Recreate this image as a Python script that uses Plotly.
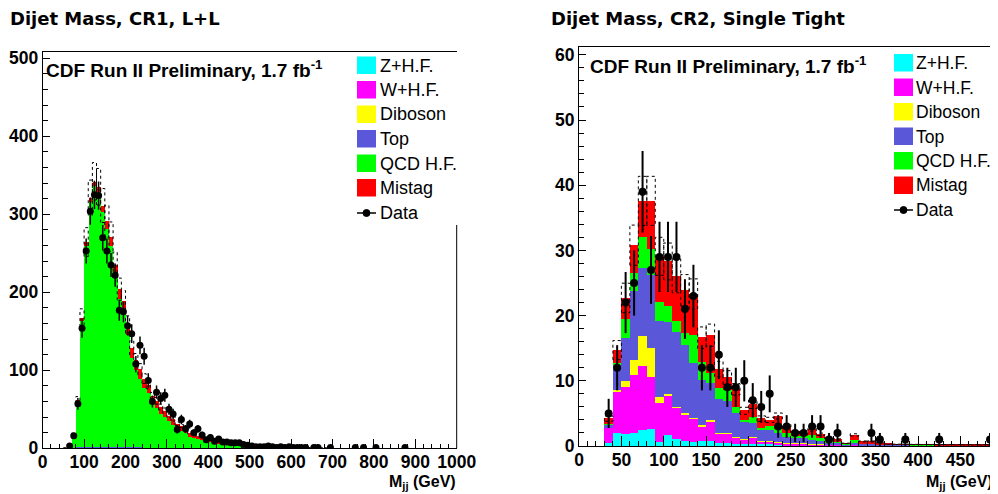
import numpy as np
import plotly.graph_objects as go

# page (screenshot) is 998x494; the default <body> margin of 8px offsets the figure
PAGE_OFF = 8
W_PX, H_PX = 998 - PAGE_OFF, 494 - PAGE_OFF
def fx(p): return (p - PAGE_OFF) / W_PX
def fy(p): return 1 - (p - PAGE_OFF) / H_PX

# ------------------------------------------------------------------ data
# Left panel: CR1, L+L   (10 GeV bins, centres 55 ... 695)
left_centers = list(range(55, 700, 10))
left_qcd = [0.5, 2.6, 17, 59, 162, 258, 314, 334, 327, 301,
            279, 258, 221, 190, 174, 144, 114, 99, 88, 76,
            70, 56, 51, 44, 39.5, 34.5, 30, 25, 22, 20,
            15, 14, 12, 11, 10.5, 8.5, 7, 6.5, 5.5, 4.8,
            4.1, 3.8, 3.4, 2.6, 2.3, 2.0, 1.8, 1.6, 1.4, 1.3,
            1.2, 1.0, 0.9, 0.8, 0.8, 0.7, 0.6, 0.6, 0.5, 0.5,
            0.4, 0.4, 0.3, 0.3, 0.3]
left_mistag = [0, 0.2, 0.5, 1.5, 3, 4, 5, 6, 6, 8,
               10, 11, 12, 12, 13, 13, 13, 13, 12, 12,
               11, 10, 9, 8, 8, 7, 7, 6, 6, 5,
               5, 4, 4, 3.5, 3, 3, 2.5, 2, 2, 1.8,
               1.5, 1.3, 1.2, 1.0, 0.9, 0.8, 0.7, 0.6, 0.6, 0.5,
               0.5, 0.4, 0.4, 0.3, 0.3, 0.3, 0.2, 0.2, 0.2, 0.2,
               0.1, 0.1, 0.1, 0.1, 0.1]
# small components, first 30 bins (55 ... 345)
left_top = [0, 0.1, 0.3, 0.8, 1.2, 1.5, 1.5, 1.5, 1.5, 1.5,
            1.5, 1.5, 1.5, 1.4, 1.4, 1.3, 1.3, 1.2, 1.1, 1.0,
            0.9, 0.8, 0.8, 0.7, 0.6, 0.6, 0.5, 0.5, 0.4, 0.4]
left_w = [0, 0.1, 0.2, 0.3, 0.4, 0.4, 0.4, 0.4, 0.4, 0.4,
          0.3, 0.3, 0.3, 0.3, 0.3, 0.2, 0.2, 0.2, 0.2, 0.2,
          0.1, 0.1, 0.1, 0.1, 0.1, 0.1, 0.1, 0.1, 0.1, 0.1]
left_z = [0, 0.1, 0.2, 0.3, 0.4, 0.4, 0.4, 0.4, 0.3, 0.3,
          0.3, 0.3, 0.2, 0.2, 0.2, 0.2, 0.2, 0.1, 0.1, 0.1,
          0.1, 0.1, 0.1, 0.1, 0.1, 0, 0, 0, 0, 0]
left_db = [0, 0, 0, 0.05, 0.1, 0.1, 0.1, 0.1, 0.1, 0.1,
           0.1, 0.1, 0.1, 0.1, 0.1, 0.05, 0.05, 0.05, 0.05, 0.05,
           0, 0, 0, 0, 0, 0, 0, 0, 0, 0]
left_data_x = [65, 75, 85, 95, 105, 115, 125, 135, 145, 155,
               165, 175, 185, 195, 205, 215, 225, 235, 245, 255,
               265, 275, 285, 295, 305, 315, 325, 335, 345, 355,
               365, 375, 385, 395, 405, 415, 425, 435, 445, 455,
               465, 475, 485, 495, 505, 515, 525, 535, 545, 555,
               565, 575, 585, 595, 605, 615, 625, 635, 655, 665,
               695, 755, 775, 805, 875]
left_data_y = [3, 16, 57, 154, 253, 304, 325, 324, 270, 253,
               235, 222, 177, 175, 157, 147, 108, 132, 118, 87,
               60, 72, 64, 68, 50, 44, 24, 37, 25, 31,
               20, 25, 17, 11, 14, 9, 12, 8, 8, 7,
               7, 7, 5, 4, 3, 2, 2, 2, 3, 2,
               1, 2, 1, 2, 1, 1, 1, 1, 1, 1,
               1, 1, 1, 1, 1]
left_band_frac = 0.07

# Right panel: CR2, Single Tight (10 GeV bins, centres 35 ... 485)
right_centers = list(range(35, 490, 10))
right_z = [0.4, 2.0, 1.8, 2.0, 2.4, 2.5, 0.6, 1.7, 1.0, 0.7,
           0.5, 0.7, 0.7, 0.4, 0.4, 0.3, 0.3, 0.3, 0.2, 0.2,
           0.1, 0.1, 0.1, 0.1, 0.05, 0.05, 0.05, 0.05, 0, 0.05,
           0, 0, 0, 0, 0, 0, 0, 0, 0, 0,
           0, 0, 0, 0, 0, 0]
right_w = [2.3, 6.3, 7.2, 8.9, 9.8, 8.1, 5.9, 6.0, 4.8, 4.1,
           3.6, 2.3, 3.0, 1.5, 1.4, 1.0, 0.7, 1.0, 0.5, 0.5,
           0.4, 0.3, 0.2, 0.2, 0.15, 0.1, 0.1, 0.1, 0.05, 0.1,
           0.05, 0.05, 0.05, 0.03, 0.03, 0.03, 0.02, 0.02, 0.02, 0.02,
           0.02, 0.02, 0.01, 0.01, 0.01, 0.01]
right_db = [0, 0.2, 0.9, 2.3, 4.6, 4.4, 1.0, 0.2, 0.2, 0.2,
            0.2, 0.2, 0.3, 0.1, 0.1, 0.1, 0.05, 0.05, 0.05, 0.05,
            0.05, 0.05, 0.05, 0.05, 0.05, 0.05, 0, 0, 0, 0,
            0, 0, 0, 0, 0, 0, 0, 0, 0, 0,
            0, 0, 0, 0, 0, 0]
right_top = [0.5, 4.0, 6.6, 10.5, 10.4, 11.2, 11.6, 11.0, 11.4, 10.5,
             8.4, 6.9, 5.6, 5.1, 4.9, 3.6, 2.65, 2.15, 1.75, 1.65,
             1.35, 0.95, 0.85, 0.85, 0.65, 0.5, 0.4, 0.35, 0.2, 0.3,
             0.25, 0.25, 0.15, 0.1, 0.1, 0.1, 0.08, 0.08, 0.08, 0.06,
             0.06, 0.05, 0.05, 0.05, 0.04, 0.04]
right_qcd = [0.2, 0.2, 3.0, 2.8, 4.8, 3.9, 3.0, 2.5, 1.7, 1.8,
             4.3, 2.8, 1.6, 1.7, 1.7, 1.0, 0.3, 0.9, 0.2, 0.6,
             0.6, 0.5, 0.3, 0.3, 0.8, 0.5, 0.15, 0.1, 0.05, 0.4,
             0.1, 0.1, 0.05, 0.03, 0.03, 0.03, 0.03, 0.02, 0.02, 0.02,
             0.02, 0.02, 0.02, 0.02, 0.02, 0.02]
right_mistag = [0.8, 2.0, 3.2, 4.3, 5.6, 7.5, 7.0, 6.9, 7.0, 6.6,
                6.3, 3.7, 5.8, 3.0, 2.0, 2.7, 1.4, 2.0, 1.5, 1.0,
                2.1, 1.1, 0.7, 0.5, 0.8, 0.6, 0.5, 0.4, 0.1, 0.85,
                0.3, 0.3, 0.2, 0.12, 0.1, 0.1, 0.1, 0.1, 0.1, 0.1,
                0.1, 0.1, 0.1, 0.1, 0.1, 0.1]
right_data = [5, 12, 22, 25, 39, 27, 29, 29, 29, 21,
              23, 12, 12, 14, 9, 9, 10, 7, 6, 8,
              3, 3, 2, 2, 3, 3, 1, 2, 0, 0,
              0, 2, 1, 0, 0, 1, 0, 0, 0, 1,
              0, 0, 0, 0, 0, 1]
right_band_frac = 0.10

BIN_W = 10
labels = ["Z+H.F.", "W+H.F.", "Diboson", "Top", "QCD H.F.", "Mistag"]
colors = ["#00FFFF", "#FF00FF", "#FFFF00", "#5A57D8", "#00FF00", "#FF0000"]

FONT = "Liberation Sans, Arial, Helvetica, sans-serif"

fig = go.Figure()

def add_stack(xa, ya, comps):
    totals = {}
    for (xs, ys), col in zip(comps, colors):
        fig.add_trace(go.Bar(x=xs, y=ys, width=BIN_W, marker=dict(color=col, line=dict(width=0)),
                             xaxis=xa, yaxis=ya, showlegend=False, hoverinfo="skip"))
        for x, y in zip(xs, ys):
            totals[x] = totals.get(x, 0) + y
    return totals

def add_band(xa, ya, totals, frac):
    bx, by = [], []
    for x in sorted(totals):
        t = totals[x]
        if t <= 0.15:
            continue
        lo, hi = x - BIN_W / 2, x + BIN_W / 2
        dn, up = t * (1 - frac), t * (1 + frac)
        bx += [lo, lo, hi, hi, lo, None]
        by += [dn, up, up, dn, dn, None]
    fig.add_trace(go.Scatter(x=bx, y=by, mode="lines", xaxis=xa, yaxis=ya,
                             line=dict(color="black", width=1, dash="dot"),
                             showlegend=False, hoverinfo="skip"))

def add_data(xa, ya, xs, ys, size, thick):
    pts = [(x, y) for x, y in zip(xs, ys) if y > 0]
    px_ = [p[0] for p in pts]
    py_ = [p[1] for p in pts]
    fig.add_trace(go.Scatter(x=px_, y=py_, mode="markers", xaxis=xa, yaxis=ya,
                             marker=dict(color="black", size=size),
                             error_y=dict(type="data", array=np.sqrt(py_), width=0,
                                          thickness=thick, color="black"),
                             showlegend=False, hoverinfo="skip"))

n = len(left_top)
ltot = add_stack("x", "y", [(left_centers[:n], left_z), (left_centers[:n], left_w),
                            (left_centers[:n], left_db), (left_centers[:n], left_top),
                            (left_centers, left_qcd), (left_centers, left_mistag)])
add_band("x", "y", ltot, left_band_frac)
add_data("x", "y", left_data_x, left_data_y, 7, 1.5)

rtot = add_stack("x2", "y2", [(right_centers, right_z), (right_centers, right_w),
                              (right_centers, right_db), (right_centers, right_top),
                              (right_centers, right_qcd), (right_centers, right_mistag)])
add_band("x2", "y2", rtot, right_band_frac)
add_data("x2", "y2", right_centers, right_data, 8, 2)

# ------------------------------------------------------------------ axes (page pixels)
L = dict(x0=42.7, x1=456.7, y0=448.3, y1=51.7)
R = dict(x0=579.0, x1=994.3, y0=446.0, y1=47.3)

tickfont = dict(family=FONT, size=17.5, color="black", weight="bold")

def xaxis(dom, rng, dtick, mdtick, anchor, tl, mtl):
    return dict(domain=[fx(dom["x0"]), fx(dom["x1"])], range=rng, anchor=anchor, automargin=False,
                showgrid=False, zeroline=False, showline=True, linecolor="black", linewidth=1,
                mirror=True, ticks="inside", ticklen=tl, tickwidth=1, tickcolor="black",
                dtick=dtick, tick0=0, tickfont=tickfont, ticklabelstandoff=-2,
                minor=dict(ticks="inside", ticklen=mtl, dtick=mdtick, tick0=0, tickcolor="black", tickwidth=1))

def yaxis(dom, rng, dtick, mdtick, anchor):
    return dict(domain=[fy(dom["y0"]), fy(dom["y1"])], range=rng, anchor=anchor, automargin=False,
                showgrid=False, zeroline=False, showline=True, linecolor="black", linewidth=1,
                mirror=False, ticks="inside", ticklen=7, tickwidth=1, tickcolor="black",
                dtick=dtick, tick0=0, tickfont=tickfont, ticklabelstandoff=0,
                minor=dict(ticks="inside", ticklen=5, dtick=mdtick, tick0=0, tickcolor="black", tickwidth=1))

fig.update_layout(
    width=W_PX, height=H_PX, margin=dict(l=0, r=0, t=0, b=0, pad=0, autoexpand=False),
    paper_bgcolor="white", plot_bgcolor="white",
    barmode="stack", bargap=0, showlegend=False,
    xaxis=xaxis(L, [0, 1000], 100, 20, "y", 9, 4),
    yaxis=yaxis(L, [0, 508.5], 100, 20, "x"),
    xaxis2=xaxis(R, [0, 490], 50, 10, "y2", 10, 5),
    yaxis2=yaxis(R, [0, 61.15], 10, 2, "x2"),
)

shapes = []
annotations = []

# right frame lines (hidden behind legend at the top)
shapes.append(dict(type="line", xref="paper", yref="paper", x0=fx(L["x1"]), x1=fx(L["x1"]),
                   y0=fy(225), y1=fy(L["y0"]), line=dict(color="black", width=1)))
shapes.append(dict(type="line", xref="paper", yref="paper", x0=fx(R["x1"]), x1=fx(R["x1"]),
                   y0=fy(222), y1=fy(R["y0"]), line=dict(color="black", width=1)))

def legend(bx0, bx1, by0, step, tx, data_y, fs):
    for i, (lab, col) in enumerate(zip(labels, colors)):
        y0 = by0 + i * step
        shapes.append(dict(type="rect", xref="paper", yref="paper",
                           x0=fx(bx0), x1=fx(bx1), y0=fy(y0), y1=fy(y0 + 17.5),
                           fillcolor=col, line=dict(width=0)))
        annotations.append(dict(xref="paper", yref="paper", x=fx(tx), y=fy(y0 + 9),
                                text=lab, showarrow=False, xanchor="left", yanchor="middle",
                                font=dict(family=FONT, size=fs, color="black")))
    shapes.append(dict(type="line", xref="paper", yref="paper", x0=fx(bx0), x1=fx(bx1),
                       y0=fy(data_y), y1=fy(data_y), line=dict(color="black", width=1.5)))
    cx = (bx0 + bx1) / 2
    shapes.append(dict(type="circle", xref="paper", yref="paper", x0=fx(cx - 3.5), x1=fx(cx + 3.5),
                       y0=fy(data_y - 3.5), y1=fy(data_y + 3.5), fillcolor="black",
                       line=dict(color="black", width=1)))
    annotations.append(dict(xref="paper", yref="paper", x=fx(tx), y=fy(data_y),
                            text="Data", showarrow=False, xanchor="left", yanchor="middle",
                            font=dict(family=FONT, size=fs, color="black")))

legend(357, 376, 56.5, 24.5, 378, 213, 18)
legend(894, 913, 54, 24.5, 914, 210, 17.5)

# titles
annotations.append(dict(xref="paper", yref="paper", x=fx(8), y=fy(19), xanchor="left", yanchor="middle",
                        text="<b>Dijet Mass, CR1, L+L</b>", showarrow=False,
                        font=dict(family="DejaVu Sans", size=18, color="black")))
annotations.append(dict(xref="paper", yref="paper", x=fx(549), y=fy(18.5), xanchor="left", yanchor="middle",
                        text="<b>Dijet Mass, CR2, Single Tight</b>", showarrow=False,
                        font=dict(family="DejaVu Sans", size=18, color="black")))
# CDF labels
for x0, yc in [(44, 69), (588, 65)]:
    annotations.append(dict(xref="paper", yref="paper", x=fx(x0), y=fy(yc), xanchor="left", yanchor="middle",
                            text="<b>CDF Run II Preliminary, 1.7 fb<sup>-1</sup></b>", showarrow=False,
                            font=dict(family=FONT, size=19, color="black")))
# x-axis titles
for x1, yc in [(458, 482), (995, 482)]:
    annotations.append(dict(xref="paper", yref="paper", x=fx(x1), y=fy(yc), xanchor="right", yanchor="middle",
                            text="<b>M<sub>jj</sub> (GeV)</b>", showarrow=False,
                            font=dict(family=FONT, size=16, color="black")))

fig.update_layout(shapes=shapes, annotations=annotations)
fig.write_html("out.html")
